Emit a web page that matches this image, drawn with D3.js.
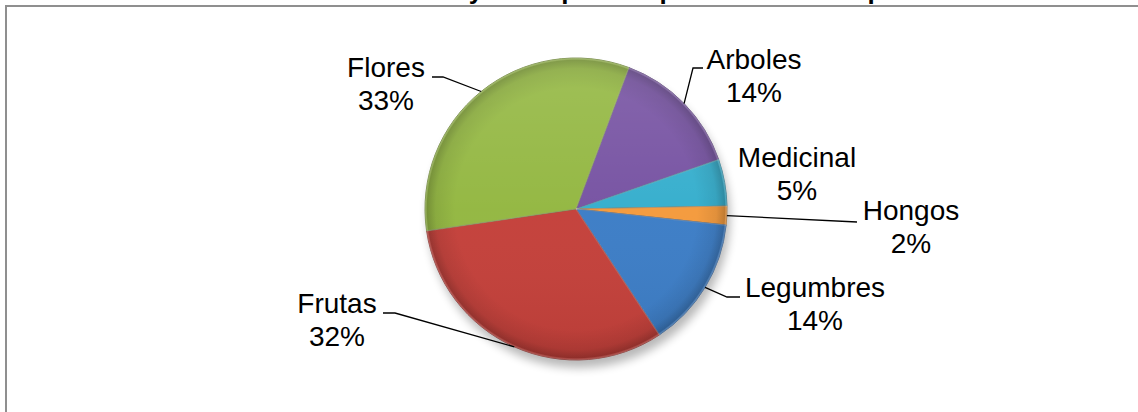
<!DOCTYPE html>
<html lang="es">
<head>
<meta charset="UTF-8">
<title>Pie</title>
<style>
  body { margin: 0; background: #fff; overflow: hidden; }
  svg { display: block; }
  .lbl { font-family: "Liberation Sans", Arial, sans-serif; font-size: 28px; fill: #000; }
  .title { font-family: "Liberation Sans", Arial, sans-serif; font-size: 26px; font-weight: bold; fill: #000; }
</style>
</head>
<body>
<svg width="1138" height="412"></svg>
<script src="https://d3js.org/d3.v7.min.js"></script>
<script>
// data
const categories = ["Arboles", "Medicinal", "Hongos", "Legumbres", "Frutas", "Flores"];
const values = [14, 5, 2, 14, 32, 33];
const colors = ["#7652a2", "#35aecd", "#f49a3c", "#3c7dc6", "#c4403a", "#93b741"];

// label placement (center x, first baseline, leader elbow + end)
const labelLayout = [
  { x: 754, y: 69, leader: [[693, 68], [703, 68]] },
  { x: 797, y: 167, leader: null },
  { x: 911, y: 220, leader: [[857, 222]] },
  { x: 815, y: 297, leader: [[727, 297], [740, 297]] },
  { x: 337, y: 313, leader: [[395, 313], [383, 313]] },
  { x: 386, y: 77, leader: [[443, 77], [432, 77]] }
];

const svg = d3.select("svg");
const cx = 576, cy = 209, r = 151;
const defs = svg.append("defs");

// chart frame
svg.append("rect")
  .attr("x", 6).attr("y", 6)
  .attr("width", 1300).attr("height", 600)
  .attr("fill", "#fff")
  .attr("stroke", "#8f8f8f").attr("stroke-width", 2);

// title (mostly outside the visible area)
svg.append("text")
  .attr("class", "title")
  .attr("x", 262).attr("y", -1)
  .text("Ventas de flores y otras plantas por semestre de producción");

// shadow
const blur = defs.append("filter").attr("id", "shadow")
  .attr("x", "-20%").attr("y", "-20%").attr("width", "140%").attr("height", "140%");
blur.append("feGaussianBlur").attr("stdDeviation", 5);

// bevel shading
const rim = defs.append("radialGradient").attr("id", "rim")
  .attr("gradientUnits", "userSpaceOnUse")
  .attr("cx", cx).attr("cy", cy).attr("r", r);
rim.append("stop").attr("offset", "0.80").attr("stop-color", "#000").attr("stop-opacity", 0);
rim.append("stop").attr("offset", "0.93").attr("stop-color", "#000").attr("stop-opacity", 0.08);
rim.append("stop").attr("offset", "0.985").attr("stop-color", "#000").attr("stop-opacity", 0.22);
rim.append("stop").attr("offset", "1").attr("stop-color", "#fff").attr("stop-opacity", 0.25);

const gloss = defs.append("linearGradient").attr("id", "gloss")
  .attr("x1", 0).attr("y1", 0).attr("x2", 0).attr("y2", 1);
gloss.append("stop").attr("offset", "0").attr("stop-color", "#fff").attr("stop-opacity", 0.12);
gloss.append("stop").attr("offset", "0.5").attr("stop-color", "#fff").attr("stop-opacity", 0.02);
gloss.append("stop").attr("offset", "1").attr("stop-color", "#000").attr("stop-opacity", 0.06);

const pie = d3.pie().sort(null).value(d => d)
  .startAngle(20.5 * Math.PI / 180)
  .endAngle(380.5 * Math.PI / 180);
const arcs = pie(values);
const arc = d3.arc().innerRadius(0).outerRadius(r);

const g = svg.append("g").attr("transform", `translate(${cx},${cy})`);

g.append("circle")
  .attr("cx", 3).attr("cy", 8).attr("r", r)
  .attr("fill", "#000").attr("opacity", 0.28)
  .attr("filter", "url(#shadow)");

g.selectAll("path.slice")
  .data(arcs)
  .join("path")
  .attr("class", "slice")
  .attr("d", arc)
  .attr("fill", (d, i) => colors[i])
  .attr("stroke", (d, i) => d3.color(colors[i]).darker(1.2))
  .attr("stroke-width", 0.8);

g.selectAll("path.rim")
  .data(arcs)
  .join("path")
  .attr("class", "rim")
  .attr("d", arc)
  .attr("transform", `translate(${-cx},${-cy})`)
  .attr("fill", "url(#rim)");
g.selectAll("path.rim").attr("transform", null)
  .attr("fill", "url(#rimLocal)");

const rimLocal = defs.append("radialGradient").attr("id", "rimLocal")
  .attr("gradientUnits", "userSpaceOnUse")
  .attr("cx", 0).attr("cy", 0).attr("r", r);
rim.selectAll("stop").each(function () {
  const s = d3.select(this);
  rimLocal.append("stop").attr("offset", s.attr("offset"))
    .attr("stop-color", s.attr("stop-color")).attr("stop-opacity", s.attr("stop-opacity"));
});

g.append("circle").attr("r", r).attr("fill", "url(#gloss)");

// light separators between slices
g.selectAll("line.sep")
  .data(arcs)
  .join("line")
  .attr("class", "sep")
  .attr("x1", 0).attr("y1", 0)
  .attr("x2", d => r * Math.sin(d.startAngle))
  .attr("y2", d => -r * Math.cos(d.startAngle))
  .attr("stroke", "#fff").attr("stroke-opacity", 0.25).attr("stroke-width", 1.2);

// leader lines
arcs.forEach((d, i) => {
  const lay = labelLayout[i];
  if (!lay.leader) return;
  const a = (d.startAngle + d.endAngle) / 2;
  const pts = [[cx + r * Math.sin(a), cy - r * Math.cos(a)]].concat(lay.leader);
  svg.append("path")
    .attr("d", d3.line()(pts))
    .attr("fill", "none")
    .attr("stroke", "#000")
    .attr("stroke-width", 1.3);
});

// labels
arcs.forEach((d, i) => {
  const lay = labelLayout[i];
  const t = svg.append("text").attr("class", "lbl").attr("text-anchor", "middle");
  t.append("tspan").attr("x", lay.x).attr("y", lay.y).text(categories[i]);
  t.append("tspan").attr("x", lay.x).attr("y", lay.y + 33).text(values[i] + "%");
});
</script>
</body>
</html>
